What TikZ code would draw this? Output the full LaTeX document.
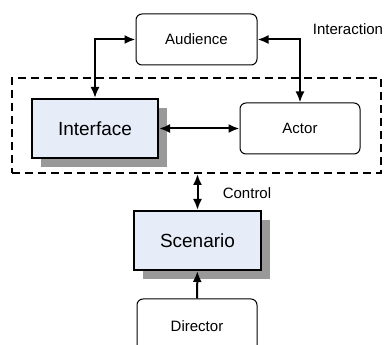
\documentclass[tikz,border=0pt]{standalone}
\usepackage{fontspec}
\setmainfont{Liberation Sans}
\usetikzlibrary{arrows.meta,shadows}
\definecolor{boxblue}{HTML}{E6ECF8}

\begin{document}
\begin{tikzpicture}[x=1pt,y=-1pt]
			\tikzstyle{agent}= [
				rectangle, rounded corners = 6pt, draw = black, line width = 1pt,
				inner sep = 0pt, minimum width = 121pt, minimum height = 51pt,
				font = \fontsize{15}{18}\selectfont
			]
			\tikzstyle{module}= [
				rectangle, draw = black, fill = boxblue, line width = 2pt,
				inner sep = 0pt, minimum width = 126pt, minimum height = 59pt,
				font = \fontsize{19}{23}\selectfont,
				drop shadow = {shadow xshift = 9pt, shadow yshift = -9pt,
					fill = black!40, opacity = 1}
			]
			\tikzstyle{tag}= [font = \fontsize{15}{18}\selectfont, inner sep = 0pt]
			\tikzstyle{line}=[draw=black,>={Latex[length=11pt,width=9pt]},line width=2pt]
			\useasboundingbox (0,0) rectangle (384,345);
			\clip (0,0) rectangle (384,345);
			\node[draw, dash pattern = on 8pt off 5pt, line width = 2pt,
				minimum width = 369pt, minimum height = 95pt, inner sep = 0pt] (stage) at (196.5,125.5) {};
			\node[agent] (audience) at (196.5,39.5) {Audience};
			\node[module] (interface) at (95,128.5) {Interface};
			\node[agent, minimum width = 120pt] (actor) at (300,128.5) {Actor};
			\node[module, minimum width = 127pt] (scenario) at (197.5,240.5) {Scenario};
			\node[agent, minimum width = 120pt, minimum height = 54pt] (director) at (197,326) {Director};
			\node[tag] (interaction) at (348,29) {Interaction};
			\node[tag] (control) at (247,193) {Control};
			\draw (audience.west) -| (interface.north) [line,<->];
			\draw (audience.east) -| (actor.north) [line,<->];
			\draw (interface) to (actor) [line,<->];
			\draw (scenario.north) to (scenario.north |- stage.south) [line,<->];
			\draw (director) to (scenario) [line,->];
		\end{tikzpicture}
\end{document}
